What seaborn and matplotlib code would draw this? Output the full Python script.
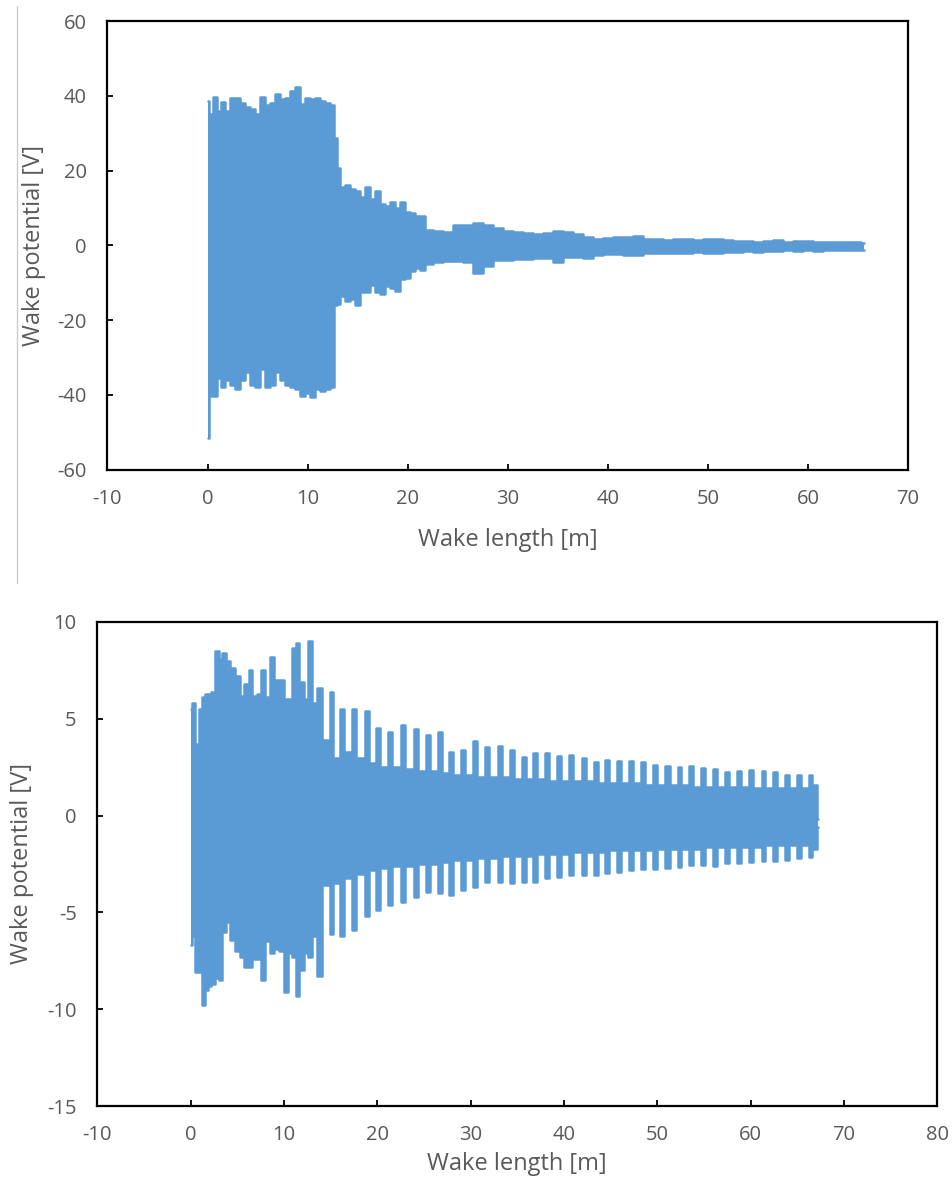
import numpy as np
import pandas as pd
import matplotlib
matplotlib.use("Agg")
import matplotlib.pyplot as plt
from matplotlib.lines import Line2D
import seaborn as sns

# === Top chart: envelope of the wake potential (peaks) ===
top_x = [0.0, 0.3, 0.7, 1.1, 1.5, 2.0, 2.5, 3.0, 3.5, 4.0, 4.5, 5.0, 5.5, 6.0, 6.5,
         7.0, 7.5, 8.0, 8.5, 9.0, 9.5, 10.0, 10.5, 11.0, 11.5, 12.0, 12.5, 12.8,
         13.0, 13.5, 14.0, 14.5, 15.0, 15.5, 16.0, 16.5, 17.0, 17.5, 18.0, 18.5,
         19.0, 19.5, 20.0, 20.5, 21.0, 21.5, 22.0, 23.0, 24.0, 25.0, 26.0, 27.0,
         28.0, 29.0, 30.0, 31.0, 32.0, 33.0, 34.0, 35.0, 36.0, 37.0, 38.0, 39.0,
         40.0, 41.0, 42.0, 43.0, 44.0, 45.0, 46.0, 47.0, 48.0, 49.0, 50.0, 51.0,
         52.0, 53.0, 54.0, 55.0, 56.0, 57.0, 58.0, 59.0, 60.0, 61.0, 62.0, 63.0,
         64.0, 65.0, 65.6]
top_hi = [38.6, 35.0, 39.7, 36.0, 38.3, 36.0, 39.5, 39.5, 38.0, 37.0, 36.5, 35.0, 39.7,
          37.5, 38.0, 40.6, 39.0, 39.5, 41.2, 42.4, 37.7, 39.5, 39.0, 39.5, 38.5, 38.0,
          37.5, 28.6, 20.6, 15.7, 16.0, 15.0, 14.5, 13.0, 15.5, 12.5, 14.5, 11.0, 10.5,
          11.5, 10.0, 11.7, 9.0, 8.5, 7.7, 7.7, 4.0, 3.8, 3.5, 5.5, 5.5, 6.0, 5.5, 4.5,
          3.8, 3.5, 3.3, 3.0, 3.3, 3.8, 3.5, 3.0, 2.3, 1.8, 1.9, 2.2, 2.3, 2.5, 1.8,
          1.6, 1.5, 1.6, 1.8, 1.5, 1.7, 1.6, 1.3, 1.1, 1.2, 1.0, 1.2, 1.3, 1.0, 1.2,
          1.1, 0.9, 0.9, 0.8, 0.8, 0.9, 0.7]
top_lo = [-51.5, -40.3, -40.3, -35.4, -38.0, -36.0, -37.5, -38.5, -36.0, -34.0, -37.5,
          -38.0, -33.0, -38.0, -37.5, -34.0, -36.0, -37.5, -38.0, -38.5, -40.3, -39.5,
          -40.5, -38.5, -39.0, -38.5, -38.0, -16.0, -15.8, -13.5, -15.0, -14.5, -16.0,
          -12.5, -12.5, -10.5, -12.5, -13.0, -11.0, -11.5, -12.3, -9.0, -8.8, -7.0,
          -6.0, -6.5, -5.0, -4.5, -4.3, -4.3, -4.5, -7.4, -5.5, -4.0, -4.0, -3.6, -3.7,
          -3.5, -3.4, -4.5, -3.2, -3.2, -3.3, -2.5, -2.3, -2.4, -2.5, -2.7, -2.2, -2.0,
          -2.1, -2.0, -2.0, -1.9, -2.2, -2.1, -1.8, -1.7, -1.6, -1.8, -1.6, -1.5, -1.4,
          -1.5, -1.4, -1.5, -1.3, -1.4, -1.4, -1.3, -1.2]

# === Bottom chart: dense start, then regular bursts ===
bot_early_x = [0.0, 0.3, 0.7, 1.0, 1.3, 1.7, 2.0, 2.4, 2.8, 3.2, 3.6, 4.0, 4.5, 5.0, 5.5,
               6.0, 6.4, 6.8, 7.3, 7.7, 8.2, 8.7, 9.2, 9.7, 10.2, 10.7, 11.1, 11.4,
               11.9, 12.3, 12.8, 13.2]
bot_early_hi = [5.5, 5.8, 3.7, 5.5, 6.1, 6.3, 6.3, 6.4, 8.5, 8.1, 8.4, 8.0, 7.6, 7.2, 6.2,
                6.8, 7.5, 6.2, 6.3, 7.5, 6.1, 8.2, 7.0, 7.0, 6.0, 6.0, 8.65, 8.9, 6.9,
                6.0, 9.0, 5.8]
bot_early_lo = [-6.7, -6.2, -8.1, -8.1, -9.8, -9.0, -8.8, -8.7, -8.4, -8.5, -6.0, -5.5,
                -6.4, -7.0, -7.3, -7.8, -7.8, -7.4, -7.4, -8.5, -6.5, -7.1, -6.9, -7.0,
                -9.1, -7.1, -7.3, -9.3, -8.0, -7.1, -7.3, -6.2]

burst_x = [13.8, 15.1, 16.2, 17.5, 18.9, 20.1, 21.3,
           22.8, 24.1, 25.4, 26.7, 27.9, 29.2, 30.5, 31.8, 33.1, 34.4, 35.7, 36.9,
           38.2, 39.5, 40.8, 42.1, 43.4, 44.6, 45.9, 47.2, 48.5, 49.8, 51.1, 52.4,
           53.6, 54.9, 56.2, 57.5, 58.8, 60.1, 61.4, 62.6, 63.9, 65.2, 66.5]
burst_hi = [6.6, 6.4, 5.5, 5.5, 5.4, 4.5, 4.3,
            4.68, 4.46, 4.16, 4.34, 3.30, 3.39, 3.87, 3.53, 3.61, 3.39, 3.01, 3.22,
            3.22, 3.08, 3.13, 2.96, 2.79, 2.87, 2.82, 2.82, 2.75, 2.61, 2.56, 2.53,
            2.56, 2.47, 2.41, 2.27, 2.30, 2.36, 2.30, 2.27, 2.10, 2.10, 2.10]
burst_lo = [-8.3, -6.1, -6.2, -5.9, -5.2, -4.9, -4.6,
            -4.45, -4.19, -3.93, -3.98, -4.10, -3.84, -3.67, -3.41, -3.41, -3.50,
            -3.41, -3.41, -3.24, -3.15, -3.07, -3.07, -3.07, -2.98, -2.90, -2.81,
            -2.78, -2.78, -2.72, -2.64, -2.55, -2.55, -2.59, -2.47, -2.47, -2.38,
            -2.35, -2.35, -2.29, -2.21, -2.12]
# level between two bursts (last entry: tail after the final burst)
between_hi = [3.9, 3.0, 3.3, 3.0, 2.7, 2.5, 2.5,
              2.4, 2.3, 2.3, 2.2, 2.1, 2.1, 2.0, 2.0, 2.0, 1.9, 1.9, 1.9, 1.8, 1.8,
              1.8, 1.8, 1.7, 1.7, 1.7, 1.7, 1.6, 1.6, 1.6, 1.6, 1.5, 1.5, 1.5, 1.5,
              1.5, 1.4, 1.4, 1.4, 1.4, 1.4, 1.6]
between_lo = [-3.6, -3.5, -3.2, -3.0, -2.8, -2.7, -2.6,
              -2.6, -2.5, -2.5, -2.4, -2.3, -2.3, -2.2, -2.2, -2.1, -2.1, -2.1, -2.0,
              -2.0, -2.0, -1.9, -1.9, -1.9, -1.8, -1.8, -1.8, -1.8, -1.7, -1.7, -1.7,
              -1.7, -1.6, -1.6, -1.6, -1.6, -1.6, -1.5, -1.5, -1.5, -1.5, -1.7]
bot_end_x = 67.2

BLUE = "#5B9BD5"
GREY = "#595959"

sns.set_style("ticks")
plt.rcParams["font.family"] = ["Open Sans", "DejaVu Sans"]
plt.rcParams["axes.unicode_minus"] = False

# build the bottom envelope table: each gap is split in thirds so bursts stay narrow
bx, bh, bl = list(bot_early_x), list(bot_early_hi), list(bot_early_lo)
for i, xb in enumerate(burst_x):
    bx.append(xb); bh.append(burst_hi[i]); bl.append(burst_lo[i])
    x_next = burst_x[i + 1] if i + 1 < len(burst_x) else bot_end_x
    for f in (1 / 3, 2 / 3):
        bx.append(xb + f * (x_next - xb)); bh.append(between_hi[i]); bl.append(between_lo[i])
bx.append(bot_end_x); bh.append(-0.2); bl.append(-0.6)

top_df = pd.DataFrame({"x": top_x, "hi": top_hi, "lo": top_lo})
bot_df = pd.DataFrame({"x": bx, "hi": bh, "lo": bl})

fig = plt.figure(figsize=(9.53, 11.8), dpi=100)
ax1 = fig.add_axes([0.1128, 0.6021, 0.8400, 0.3801])
ax2 = fig.add_axes([0.1023, 0.0627, 0.8810, 0.4102])


def draw(ax, df):
    ax.fill_between(df["x"], df["lo"], df["hi"], step="mid", color=BLUE, linewidth=0)
    for col in ["hi", "lo"]:
        sns.lineplot(data=df, x="x", y=col, ax=ax, color=BLUE, lw=1.8,
                     drawstyle="steps-mid", estimator=None, sort=False)


draw(ax1, top_df)
draw(ax2, bot_df)

ax1.set_xlim(-10, 70)
ax1.set_ylim(-60, 60)
ax1.set_xticks(range(-10, 71, 10))
ax1.set_yticks(range(-60, 61, 20))
ax2.set_xlim(-10, 80)
ax2.set_ylim(-15, 10)
ax2.set_xticks(range(-10, 81, 10))
ax2.set_yticks(range(-15, 11, 5))

for ax in [ax1, ax2]:
    for sp in ax.spines.values():
        sp.set_visible(True)
        sp.set_color("black")
        sp.set_linewidth(1.6)
    ax.tick_params(direction="in", length=4.5, width=1.3, color="black",
                   labelsize=14.5, labelcolor=GREY)
    ax.tick_params(axis="x", pad=14)
    ax.tick_params(axis="y", pad=15)
    ax.set_xlabel("Wake length [m]", fontsize=17, color=GREY)
    ax.set_ylabel("Wake potential [V]", fontsize=17, color=GREY)

ax1.xaxis.set_label_coords(0.5, -0.131)
ax1.yaxis.set_label_coords(-0.077, 0.5)
ax2.xaxis.set_label_coords(0.5, -0.094)
ax2.yaxis.set_label_coords(-0.076, 0.5)

# thin grey frame line at the left of the upper chart
fig.add_artist(Line2D([17 / 953, 17 / 953], [1 - 6 / 1180, 1 - 583 / 1180],
                      transform=fig.transFigure, color="#cccccc", lw=1))

plt.savefig("out.png", dpi=100)
plt.close()
